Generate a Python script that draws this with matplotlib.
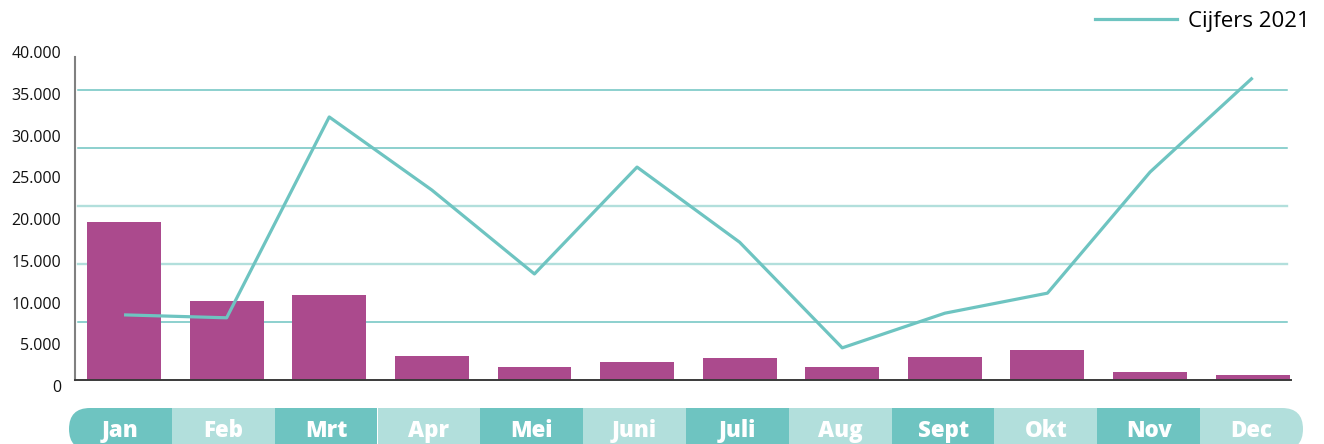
import matplotlib
matplotlib.use("Agg")
import matplotlib.pyplot as plt
from matplotlib.patches import FancyBboxPatch
from matplotlib.ticker import FuncFormatter
from matplotlib.lines import Line2D

# ---- data ----
months = ['Jan', 'Feb', 'Mrt', 'Apr', 'Mei', 'Juni', 'Juli', 'Aug', 'Sept', 'Okt', 'Nov', 'Dec']
bar_values = [18900, 9450, 10200, 2850, 1600, 2150, 2650, 1600, 2800, 3600, 950, 600]
line_values = [7800, 7450, 31500, 22750, 12700, 25500, 16500, 3850, 8000, 10400, 24900, 36200]
line_label = 'Cijfers 2021'
y_ticks = [0, 5000, 10000, 15000, 20000, 25000, 30000, 35000, 40000]
grid_ticks = [5000, 10000, 15000, 20000, 25000]

# ---- style ----
PURPLE = '#AB4A8D'
TEAL = '#6EC4C1'
LIGHT = '#B2DFDC'
W, H = 1324, 444
plt.rcParams['font.family'] = ['Open Sans', 'DejaVu Sans']

fig = plt.figure(figsize=(W / 100, H / 100), dpi=100)

def px_rect(x0, x1, ytop, ybot):
    return [x0 / W, (H - ybot) / H, (x1 - x0) / W, (ybot - ytop) / H]

x = list(range(len(months)))
xlim = (-0.478, 11.374)

# gridline axes (background)
axg = fig.add_axes(px_rect(75, 1291, 57, 380))
axg.set_xlim(0, 1)
axg.set_ylim(0, 27845)
grid_cols = [TEAL, LIGHT, LIGHT, TEAL, TEAL]
grid_lw = [1.1, 1.7, 1.7, 1.1, 1.1]
for g, c, lw in zip(grid_ticks, grid_cols, grid_lw):
    axg.axhline(g, xmin=0.0025, xmax=0.9967, color=c, lw=lw, zorder=0)
axg.axis('off')

# data axes
ax = fig.add_axes(px_rect(75, 1291, 57, 380))
ax.patch.set_visible(False)
ax.bar(x, bar_values, width=0.72, color=PURPLE, zorder=2)
ax.plot(x, line_values, color=TEAL, lw=2.3, zorder=3, solid_capstyle='butt')
ax.set_xlim(*xlim)
ax.set_ylim(0, 38683)
ax.set_xticks([])
ax.set_yticks([])
for s in ['top', 'right']:
    ax.spines[s].set_visible(False)
ax.spines['left'].set_color('#808080')
ax.spines['left'].set_linewidth(1.5)
ax.spines['bottom'].set_color('#3a3a3a')
ax.spines['bottom'].set_linewidth(1.4)

# tick label axes
axl = fig.add_axes(px_rect(75, 1291, 386 - 8.35 * 41, 386))
axl.patch.set_visible(False)
axl.set_ylim(0, 41000)
axl.set_yticks(y_ticks)
axl.yaxis.set_major_formatter(FuncFormatter(lambda v, p: f"{int(v):,}".replace(",", ".")))
axl.tick_params(axis='y', length=0, pad=10, labelsize=11.5, labelcolor='#111111')
axl.set_xticks([])
for s in axl.spines.values():
    s.set_visible(False)

# legend
handle = Line2D([], [], color=TEAL, lw=2.3)
fig.legend([handle], [line_label], loc='center right',
           bbox_to_anchor=(1310 / W, 1 - 21 / H), frameon=False,
           fontsize=16, handlelength=3.69, handletextpad=0.5,
           borderaxespad=0, borderpad=0)

# month pill
axp = fig.add_axes(px_rect(69, 1303, 408, 450))
axp.set_xlim(-0.5, 11.5)
axp.set_ylim(0, 1)
axp.axis('off')
pw, ph = 1234, 42
clip = FancyBboxPatch((0, 0), 1, 1,
                      boxstyle=f"round,pad=0,rounding_size={ph / 2 / pw}",
                      mutation_aspect=pw / ph, transform=axp.transAxes,
                      facecolor='none', edgecolor='none')
axp.add_patch(clip)
seg_cols = [TEAL if i % 2 == 0 else LIGHT for i in x]
segs = axp.bar(x, [1] * len(months), width=1.0, color=seg_cols, linewidth=0)
for r in segs:
    r.set_clip_path(clip)
for i, m in enumerate(months):
    axp.text(i, (450 - 437) / 42, m, ha='center', va='baseline', color='white',
             fontsize=16, fontweight='heavy')

fig.savefig('out.png', dpi=100)
